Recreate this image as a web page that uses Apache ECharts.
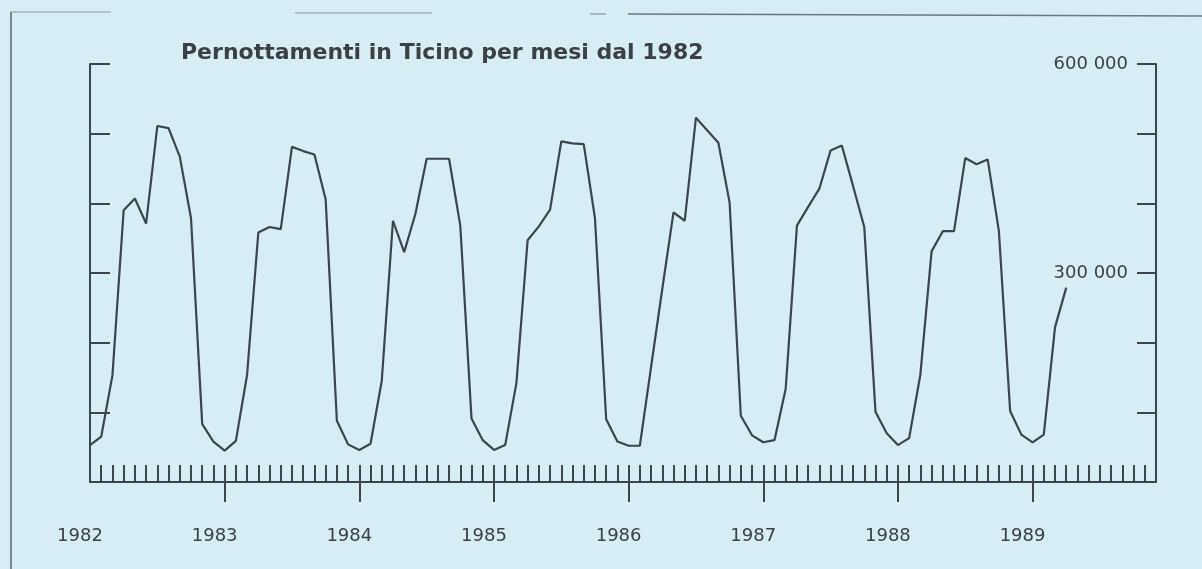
<!DOCTYPE html>
<html>
<head>
<meta charset="utf-8">
<title>Pernottamenti in Ticino per mesi dal 1982</title>
<script src="https://cdn.jsdelivr.net/npm/echarts@6/dist/echarts.min.js"></script>
<style>
  html, body { margin: 0; padding: 0; background: #d8ecf3; }
  #chart { width: 1202px; height: 569px; }
</style>
</head>
<body>
<div id="chart"></div>
<script>
// Year labels along the time axis (one every 12 months, starting January 1982)
const years = ['1982', '1983', '1984', '1985', '1986', '1987', '1988', '1989'];

// Monthly overnight stays in Ticino, January 1982 – April 1989
const overnightStays = [
  53000, 65000, 153000, 390000, 407000, 371000, 511000, 508000, 467000, 379000, 83000, 58000,   // 1982
  45000, 59000, 154000, 358000, 366000, 363000, 481000, 475000, 470000, 406000, 88000, 54000,   // 1983
  46000, 55000, 145000, 375000, 330000, 385000, 464000, 464000, 464000, 368000, 91000, 60000,   // 1984
  46000, 53000, 142000, 347000, 367000, 391000, 489000, 486000, 485000, 379000, 90000, 58000,   // 1985
  52000, 52000, 165000, 277000, 387000, 375000, 523000, 505000, 487000, 401000, 95000, 67000,   // 1986
  57000, 60000, 134000, 368000, 395000, 421000, 476000, 483000, 425000, 366000, 101000, 70000,  // 1987
  53000, 63000, 154000, 331000, 360000, 360000, 465000, 456000, 463000, 360000, 102000, 68000,  // 1988
  57000, 68000, 222000, 279000                                                                   // 1989
];

// Labelled values on the right-hand scale
const rightTickValues = [300000, 600000];
const rightTickLabels = ['300 000', '600 000'];

const monthsShown = 95;          // width of the time axis, in months
const ink = '#3b464c';
const textColor = '#3a4044';
const font = 'DejaVu Sans';

const yearStarts = years.map((_, i) => i * 12);
const seriesData = overnightStays.map((v, i) => [i, v]);

const chart = echarts.init(document.getElementById('chart'), null, { renderer: 'canvas' });

chart.setOption({
  animation: false,
  backgroundColor: '#d8ecf3',
  title: {
    text: 'Pernottamenti in Ticino per mesi dal 1982',
    left: 176,
    top: 37,
    textStyle: { fontFamily: font, fontWeight: 'bold', fontSize: 22, color: textColor }
  },
  grid: { left: 90, right: 46, top: 64, bottom: 87, containLabel: false },
  xAxis: [
    {
      // monthly ticks standing on the base line
      type: 'value', position: 'bottom', min: 0, max: monthsShown, interval: 1,
      axisLine: { show: true, onZero: false, lineStyle: { color: ink, width: 2 } },
      axisTick: { show: true, inside: true, length: 17, lineStyle: { color: ink, width: 2 } },
      axisLabel: { show: false },
      splitLine: { show: false }
    },
    {
      // year marks hanging below the base line, with year labels
      type: 'value', position: 'bottom', min: 0, max: monthsShown,
      axisLine: { show: false, onZero: false },
      axisTick: { show: true, inside: false, length: 20, customValues: yearStarts.slice(1),
                  lineStyle: { color: ink, width: 2 } },
      axisLabel: {
        show: true, customValues: yearStarts, margin: 45,
        padding: [0, 20, 0, 0], align: 'center',
        fontFamily: font, fontSize: 18, color: textColor,
        formatter: v => years[Math.round(v / 12)]
      },
      splitLine: { show: false }
    }
  ],
  yAxis: [
    {
      type: 'value', position: 'left', min: 0, max: 600000, interval: 100000,
      axisLine: { show: true, onZero: false, lineStyle: { color: ink, width: 2 } },
      axisTick: { show: true, inside: true, length: 20, lineStyle: { color: ink, width: 2 } },
      axisLabel: { show: false },
      splitLine: { show: false }
    },
    {
      type: 'value', position: 'right', min: 0, max: 600000, interval: 100000,
      axisLine: { show: true, onZero: false, lineStyle: { color: ink, width: 2 } },
      axisTick: { show: true, inside: true, length: 19, lineStyle: { color: ink, width: 2 } },
      axisLabel: {
        show: true, inside: true, margin: 28, customValues: rightTickValues,
        fontFamily: font, fontSize: 18, color: textColor,
        formatter: v => rightTickLabels[rightTickValues.indexOf(v)] || ''
      },
      splitLine: { show: false }
    }
  ],
  graphic: [
    // page frame: left rule and the broken top rule
    { type: 'line', shape: { x1: 11, y1: 12, x2: 11, y2: 569 }, style: { stroke: '#5d6a70', lineWidth: 1.5 } },
    { type: 'line', shape: { x1: 11, y1: 12, x2: 111, y2: 12 }, style: { stroke: '#8a979c', lineWidth: 1.2 } },
    { type: 'line', shape: { x1: 295, y1: 13, x2: 432, y2: 13 }, style: { stroke: '#8a979c', lineWidth: 1.2 } },
    { type: 'line', shape: { x1: 590, y1: 14, x2: 606, y2: 14 }, style: { stroke: '#8a979c', lineWidth: 1.2 } },
    { type: 'line', shape: { x1: 628, y1: 14, x2: 1202, y2: 16 }, style: { stroke: '#6b787d', lineWidth: 1.5 } }
  ],
  series: [
    {
      type: 'line',
      xAxisIndex: 0,
      yAxisIndex: 0,
      data: seriesData,
      showSymbol: false,
      smooth: false,
      lineStyle: { color: ink, width: 2.2 },
      z: 5
    }
  ]
});
</script>
</body>
</html>
